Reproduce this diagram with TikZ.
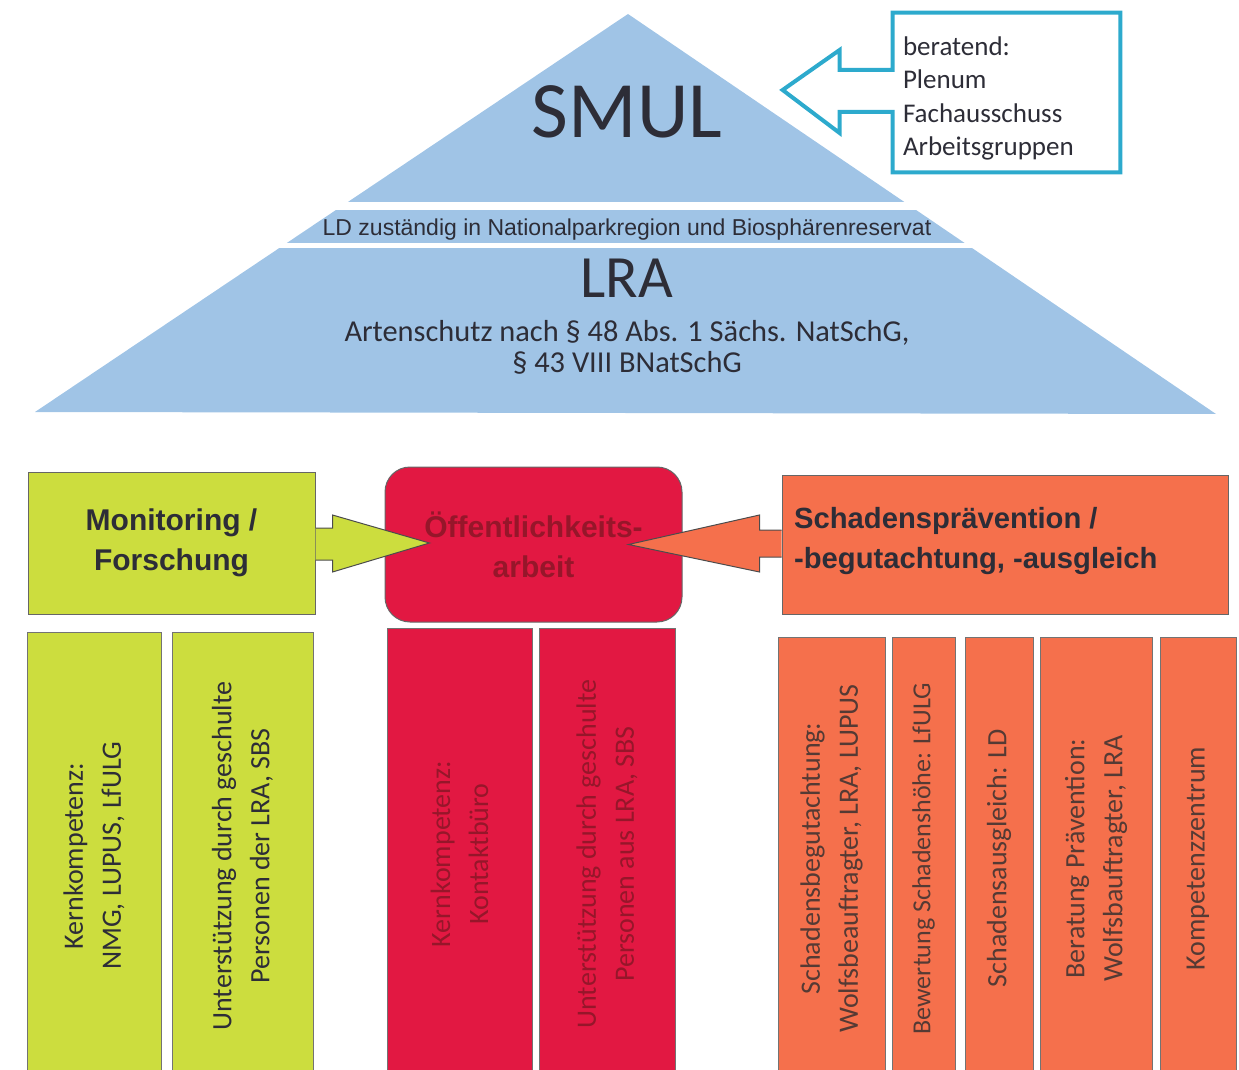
\documentclass[tikz,border=0pt]{standalone}
\usepackage{fontspec}
\setmainfont{Carlito}
\newfontfamily\arialfont{Liberation Sans}
\usetikzlibrary{calc}
\definecolor{pyrblue}{RGB}{160,196,230}
\definecolor{lawngreen}{RGB}{204,221,62}
\definecolor{crimsonred}{RGB}{226,24,66}
\definecolor{salmonorange}{RGB}{245,112,76}
\definecolor{boardcyan}{RGB}{45,170,205}
\definecolor{inkgrey}{RGB}{45,45,55}
\definecolor{darkred}{RGB}{150,22,42}
\definecolor{darkbrown}{RGB}{85,58,52}

\begin{document}
\begin{tikzpicture}[x=0.5pt, y=-0.5pt,
    pillar/.style={draw=black!55, line width=0.5pt, rotate=90, align=center,
      text=inkgrey, font=\fontsize{14}{19}\selectfont},
    headbox/.style={draw=black!60, line width=0.5pt, align=center,
      text=inkgrey, font=\arialfont\bfseries\fontsize{15}{20}\selectfont},
    blockarrow/.style={draw=black!70, line width=0.5pt, line join=miter}]
    \clip (0,0) rectangle (1239,1070);
    % Draw the pyramid
    \fill[pyrblue] (628,14) -- (1216,414) -- (35,412) -- cycle;
    \draw[white, line width=4pt] (300,206) -- (960,206);
    \draw[white, line width=2.5pt] (250,245.5) -- (1000,245.5);
    \node[text=inkgrey, font=\fontsize{40}{44}\selectfont] (smul) at (627,112) {SMUL};
    \node[text=inkgrey, font=\arialfont\fontsize{11.5}{13}\selectfont] (ld) at (627,230)
    {LD zuständig in Nationalparkregion und Biosphärenreservat};
    \node[text=inkgrey, font=\fontsize{30}{34}\selectfont] (lra) at (627,278) {LRA};
    \node[text=inkgrey, align=center, font=\fontsize{15.2}{15.5}\selectfont] (recht) at (627,347)
    {Artenschutz nach § 48 Abs. 1 Sächs. NatSchG,\\§ 43 VIII BNatSchG};
    % Draw the advisory board
    \node[minimum width=113.5pt, minimum height=79.5pt] (board) at (1006.5,92.5) {};
    \node[text=inkgrey, align=left, anchor=west, inner xsep=5pt,
      font=\fontsize{13.5}{16.75}\selectfont] (boardtext) at ($(board.west)+(0,6)$)
    {beratend:\\Plenum\\Fachausschuss\\Arbeitsgruppen};
    \draw[boardcyan, line width=2pt] ($(board.west)+(0,-22.5)$) -- (board.north west)
    -- (board.north east) -- (board.south east) -- (board.south west)
    -- ($(board.west)+(0,19.5)$) -- ++(-53,0) -- ++(0,21) -- ++(-57,-43)
    -- ++(57,-40) -- ++(0,20) -- cycle;
    % Draw the three head boxes
    \node[headbox, fill=lawngreen, minimum width=143.5pt, minimum height=71pt] (mon) at (171.5,543)
    {Monitoring /\\Forschung};
    \node[headbox, fill=crimsonred, text=darkred, rounded corners=12.5pt,
      minimum width=148.5pt, minimum height=77.5pt] (oeff) at (533.5,544.5)
    {Öffentlichkeits-\\arbeit};
    \node[headbox, fill=salmonorange, minimum width=223pt, minimum height=69.5pt] (schad) at (1005,544.5) {};
    \node[headbox, draw=none, align=left, anchor=west, font=\arialfont\bfseries\fontsize{14.6}{20}\selectfont]
    (schadtext) at (787,541) {Schadensprävention /\\-begutachtung, -ausgleich};
    % Draw the block arrows
    \draw[blockarrow, fill=lawngreen] ($(mon.east)+(0,-15)$) -- ++(17,0) -- ++(0,-13)
    -- ($(oeff.west)+(45,-1.5)$) -- ($(mon.east)+(17,29)$) -- ++(0,-12)
    -- ($(mon.east)+(0,17)$);
    \draw[blockarrow, fill=salmonorange] ($(schad.west)+(0,-14.5)$) -- ++(-22,0) -- ++(0,-15)
    -- ($(oeff.east)+(-54,0)$) -- ($(schad.west)+(-22,27.5)$) -- ++(0,-15)
    -- ($(schad.west)+(0,12.5)$);
    % Draw the pillars
    \node[pillar, fill=lawngreen, minimum width=224pt, minimum height=67pt] (mon1) at (94,856)
    {Kernkompetenz:\\NMG, LUPUS, LfULG};
    \node[pillar, fill=lawngreen, minimum width=224pt, minimum height=70.5pt] (mon2) at (242.5,856)
    {Unterstützung durch geschulte\\Personen der LRA, SBS};
    \node[pillar, fill=crimsonred, text=darkred, minimum width=226pt, minimum height=72.5pt] (oeff1) at (459.5,854)
    {Kernkompetenz:\\Kontaktbüro};
    \node[pillar, fill=crimsonred, text=darkred, minimum width=226pt, minimum height=68pt] (oeff2) at (607,854)
    {Unterstützung durch geschulte\\Personen aus LRA, SBS};
    \node[pillar, fill=salmonorange, text=darkbrown, minimum width=221.5pt, minimum height=53.5pt] (sch1) at (831.5,858.5)
    {Schadensbegutachtung:\\Wolfsbeauftragter, LRA, LUPUS};
    \node[pillar, fill=salmonorange, text=darkbrown, minimum width=221.5pt, minimum height=31.5pt,
      font=\fontsize{13}{19}\selectfont] (sch2) at (923.5,858.5)
    {Bewertung Schadenshöhe: LfULG};
    \node[pillar, fill=salmonorange, text=darkbrown, minimum width=221.5pt, minimum height=34pt] (sch3) at (999,858.5)
    {Schadensausgleich: LD};
    \node[pillar, fill=salmonorange, text=darkbrown, minimum width=221.5pt, minimum height=56pt] (sch4) at (1096,858.5)
    {Beratung Prävention:\\Wolfsbauftragter, LRA};
    \node[pillar, fill=salmonorange, text=darkbrown, minimum width=221.5pt, minimum height=38pt] (sch5) at (1198,858.5)
    {Kompetenzzentrum};
\end{tikzpicture}
\end{document}
